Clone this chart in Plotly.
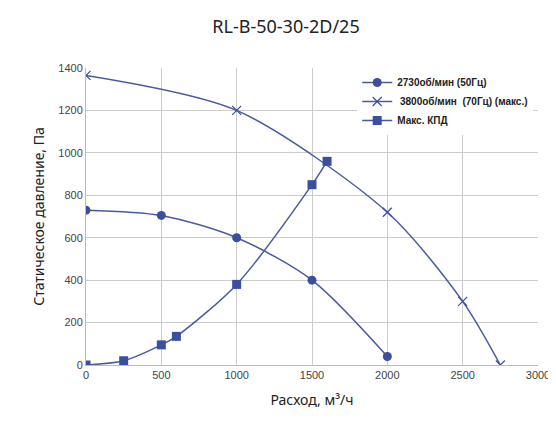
import plotly.graph_objects as go

x50 = [0, 500, 1000, 1500, 2000]
y50 = [730, 705, 600, 400, 40]
x70 = [0, 1000, 2000, 2500, 2750]
y70 = [1365, 1200, 720, 300, 0]
xk = [0, 250, 500, 600, 1000, 1500, 1600]
yk = [0, 20, 95, 135, 380, 850, 960]

C = "#3a4fa0"
L = "#4a5a9e"
fig = go.Figure()
fig.add_trace(go.Scatter(x=x50, y=y50, mode="lines+markers", name="2730об/мин (50Гц)",
    line=dict(color=L, width=1.5, shape="spline", smoothing=0.8), marker=dict(symbol="circle", size=9, color=C)))
fig.add_trace(go.Scatter(x=x70, y=y70, mode="lines+markers", name=" 3800об/мин  (70Гц) (макс.)",
    line=dict(color=L, width=1.5, shape="spline", smoothing=0.8), marker=dict(symbol="x-thin", size=9, color=C, line=dict(color=C, width=1.2))))
fig.add_trace(go.Scatter(x=xk, y=yk, mode="lines+markers", name="Макс. КПД",
    line=dict(color=L, width=1.5, shape="spline", smoothing=0.8), marker=dict(symbol="square", size=9, color=C)))

fig.update_layout(
    width=556, height=422, paper_bgcolor="white", plot_bgcolor="white",
    margin=dict(l=78, r=26, t=60, b=65),
    title=dict(text="RL-B-50-30-2D/25", x=0.5, xanchor="center", y=0.955, yanchor="middle",
               font=dict(family="Noto Sans", size=18, color="#222")),
    font=dict(family="Liberation Sans", size=11, color="#444"),
    xaxis=dict(range=[0, 3000], dtick=500, showgrid=True, gridcolor="#ccc", zeroline=False,
               showline=True, linecolor="#bbb", ticks="", automargin=False,
               title=dict(text="Расход, м³/ч",
               font=dict(family="Noto Sans", size=14, color="#222"), standoff=14)),
    yaxis=dict(range=[0, 1400], dtick=200, showgrid=True, gridcolor="#ccc", zeroline=False,
               showline=True, linecolor="#bbb", automargin=False,
               title=dict(text="Статическое давление, Па",
               font=dict(family="Noto Sans", size=14, color="#222"), standoff=10)),
    legend=dict(x=0.6, y=1.0, xanchor="left", yanchor="top", bgcolor="white",
                font=dict(family="Liberation Sans", size=10, color="#222", weight="bold"),
                tracegroupgap=2),
)
fig.write_html("out.html")
